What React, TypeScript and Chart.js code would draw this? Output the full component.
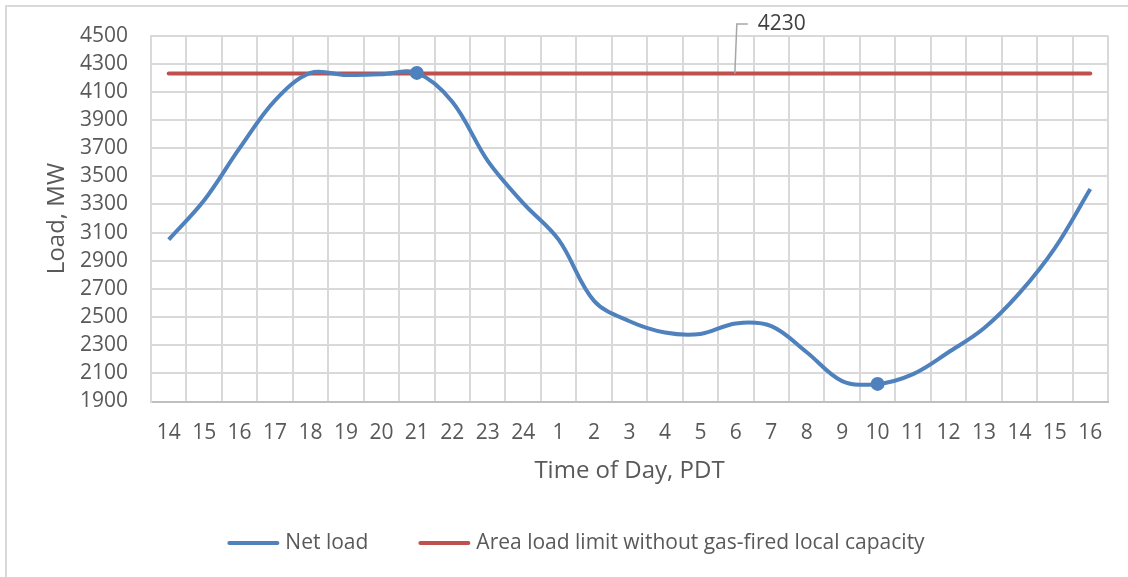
import React, { useEffect, useRef } from "react";
import { Chart, registerables } from "chart.js";

Chart.register(...registerables);

// ---- data ----
const hours = [
  "14", "15", "16", "17", "18", "19", "20", "21", "22", "23", "24",
  "1", "2", "3", "4", "5", "6", "7", "8", "9", "10", "11", "12", "13", "14", "15", "16",
];

const netLoad = [
  3050, 3330, 3700, 4040, 4235, 4220, 4225, 4235, 4030, 3610, 3310,
  3050, 2615, 2470, 2390, 2380, 2455, 2435, 2250, 2045, 2025, 2095, 2250, 2420, 2670, 2990, 3410,
];

const areaLimit = [
  4230, 4230, 4230, 4230, 4230, 4230, 4230, 4230, 4230, 4230, 4230,
  4230, 4230, 4230, 4230, 4230, 4230, 4230, 4230, 4230, 4230, 4230, 4230, 4230, 4230, 4230, 4230,
];

const markedPoints = [7, 20];
const limitLabelIndex = 16;

const yMin = 1900;
const yMax = 4500;
const yStep = 200;

const seriesNames = ["Net load", "Area load limit without gas-fired local capacity"];
const xTitle = "Time of Day, PDT";
const yTitle = "Load, MW";

// ---- styles ----
const FONT = "'Open Sans', 'Noto Sans', sans-serif";
const BLUE = "#4F81BD";
const RED = "#C0504D";
const TEXT = "#595959";
const GRID = "#D9D9D9";

const decorPlugin = {
  id: "decor",
  beforeDraw(chart: any) {
    const ctx = chart.ctx;
    ctx.save();
    ctx.fillStyle = "#ffffff";
    ctx.fillRect(0, 0, chart.width, chart.height);
    ctx.strokeStyle = GRID;
    ctx.lineWidth = 2;
    ctx.beginPath();
    ctx.moveTo(6, chart.height);
    ctx.lineTo(6, 6);
    ctx.lineTo(chart.width, 6);
    ctx.stroke();
    ctx.restore();
  },
  afterDraw(chart: any) {
    const ctx = chart.ctx;
    const xs = chart.scales.x;
    const ys = chart.scales.y;
    ctx.save();

    // data label with leader line on the limit series
    const px = xs.getPixelForValue(limitLabelIndex);
    const py = ys.getPixelForValue(areaLimit[limitLabelIndex]);
    ctx.strokeStyle = "#A6A6A6";
    ctx.lineWidth = 1.5;
    ctx.beginPath();
    ctx.moveTo(px - 1, py);
    ctx.lineTo(px + 1, 24);
    ctx.lineTo(px + 12, 24);
    ctx.stroke();
    ctx.fillStyle = "#404040";
    ctx.font = `21px ${FONT}`;
    ctx.textAlign = "left";
    ctx.textBaseline = "middle";
    ctx.fillText(String(areaLimit[limitLabelIndex]), px + 22, 24);

    // legend
    const ds = chart.data.datasets;
    const sample = 52;
    const gapText = 6;
    const gapItem = 50;
    ctx.font = `21px ${FONT}`;
    const widths = ds.map((d: any) => sample + gapText + ctx.measureText(d.label).width);
    const total = widths.reduce((a: number, b: number) => a + b, 0) + gapItem * (ds.length - 1);
    let x = 576 - total / 2;
    const ly = 543;
    ds.forEach((d: any, i: number) => {
      ctx.strokeStyle = d.borderColor;
      ctx.lineWidth = 4;
      ctx.lineCap = "round";
      ctx.beginPath();
      ctx.moveTo(x + 2, ly);
      ctx.lineTo(x + sample - 2, ly);
      ctx.stroke();
      ctx.fillStyle = TEXT;
      ctx.textAlign = "left";
      ctx.textBaseline = "middle";
      ctx.fillText(d.label, x + sample + gapText, ly);
      x += widths[i] + gapItem;
    });
    ctx.restore();
  },
};

export default function App() {
  const canvasRef = useRef<HTMLCanvasElement | null>(null);

  useEffect(() => {
    if (!canvasRef.current) return;
    const chart = new Chart(canvasRef.current, {
      type: "line",
      data: {
        labels: hours,
        datasets: [
          {
            label: seriesNames[0],
            data: netLoad,
            borderColor: BLUE,
            backgroundColor: BLUE,
            borderWidth: 4,
            tension: 0.35,
            pointRadius: netLoad.map((_, i) => (markedPoints.includes(i) ? 6 : 0)),
            pointBorderWidth: 2,
            pointBackgroundColor: BLUE,
            pointBorderColor: BLUE,
            fill: false,
          },
          {
            label: seriesNames[1],
            data: areaLimit,
            borderColor: RED,
            backgroundColor: RED,
            borderWidth: 4,
            borderCapStyle: "round",
            tension: 0,
            pointRadius: 0,
            fill: false,
          },
        ],
      },
      options: {
        responsive: false,
        animation: false,
        events: [],
        layout: { padding: { left: 0, top: 35, right: 20, bottom: 0 } },
        plugins: {
          legend: { display: false },
          tooltip: { enabled: false },
          title: { display: false },
        },
        scales: {
          x: {
            type: "category",
            offset: true,
            grid: { offset: true, color: GRID, lineWidth: 2, drawTicks: false },
            border: { color: "#BFBFBF", width: 2 },
            ticks: {
              color: TEXT,
              font: { family: FONT, size: 21 },
              padding: 19,
              autoSkip: false,
              maxRotation: 0,
              minRotation: 0,
            },
            title: {
              display: true,
              text: xTitle,
              color: TEXT,
              font: { family: FONT, size: 24 },
              padding: { top: 0, bottom: 91 },
            },
            afterFit: (scale: any) => {
              scale.height = 175.5;
            },
          },
          y: {
            type: "linear",
            min: yMin,
            max: yMax,
            grid: { color: GRID, lineWidth: 2, drawTicks: false },
            border: { color: GRID, width: 2 },
            ticks: {
              stepSize: yStep,
              autoSkip: false,
              color: TEXT,
              font: { family: FONT, size: 21 },
              padding: 23,
              callback: (v: any) => String(v),
            },
            title: {
              display: true,
              text: yTitle,
              color: TEXT,
              font: { family: FONT, size: 24 },
              padding: { top: 43, bottom: 0 },
            },
            afterFit: (scale: any) => {
              scale.width = 151;
            },
          },
        },
      },
      plugins: [decorPlugin],
    });
    return () => chart.destroy();
  }, []);

  return (
    <div style={{ position: "fixed", left: 0, top: 0, width: 1128, height: 577, background: "#fff" }}>
      <canvas ref={canvasRef} width={1128} height={577} style={{ display: "block" }} />
    </div>
  );
}
